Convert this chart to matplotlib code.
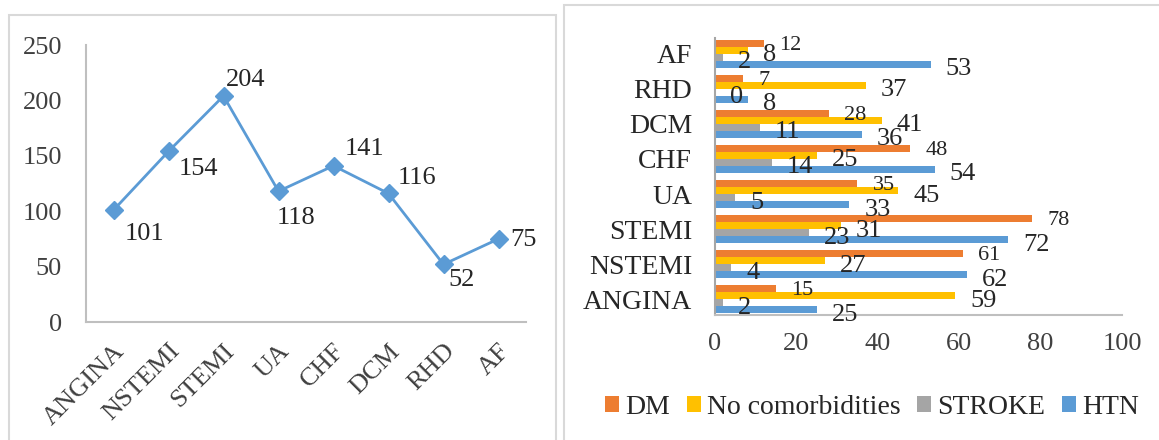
import matplotlib
matplotlib.use("Agg")
import matplotlib.pyplot as plt
from matplotlib.patches import Rectangle, Patch
from matplotlib.transforms import ScaledTranslation
import numpy as np

# ---- data ----
diagnoses = ["ANGINA", "NSTEMI", "STEMI", "UA", "CHF", "DCM", "RHD", "AF"]
patients = [101, 154, 204, 118, 141, 116, 52, 75]

series_names = ["DM", "No comorbidities", "STROKE", "HTN"]
dm = [15, 61, 78, 35, 48, 28, 7, 12]
no_comorbidities = [59, 27, 31, 45, 25, 41, 37, 8]
stroke = [2, 4, 23, 5, 14, 11, 0, 2]
htn = [25, 62, 72, 33, 54, 36, 8, 53]

line_ticks = [0, 50, 100, 150, 200, 250]
bar_ticks = [0, 20, 40, 60, 80, 100]

# ---- style ----
plt.rcParams["font.family"] = ["Liberation Serif", "DejaVu Serif"]
TEXT = "#262626"
TICK = "#404040"
BLUE = "#5B9BD5"
colors = ["#ED7D31", "#FFC000", "#A5A5A5", "#5B9BD5"]

W, H = 1159, 440
fig = plt.figure(figsize=(W / 100, H / 100), dpi=100)
fig.patch.set_facecolor("white")


def fbox(x0, y0, x1, y1):
    """pixel box (top-left origin) -> figure fraction rect"""
    return [x0 / W, 1 - y1 / H, (x1 - x0) / W, (y1 - y0) / H]


def px(v):
    return v * 72 / 100


# panel frames
for (x0, y0, x1, y1) in [(9, 15, 556, 460), (564, 5, 1180, 460)]:
    fig.patches.append(Rectangle((x0 / W, 1 - y1 / H), (x1 - x0) / W, (y1 - y0) / H,
                                 transform=fig.transFigure, fill=False,
                                 edgecolor="#D9D9D9", linewidth=1.5))

# ---- left: line chart ----
ax1 = fig.add_axes(fbox(86, 45, 526, 322))
x = np.arange(len(diagnoses))
ax1.plot(x, patients, color=BLUE, linewidth=2.0, marker="D", markersize=9.5,
         markerfacecolor=BLUE, markeredgecolor=BLUE, zorder=3)
ax1.set_xlim(-0.5, len(diagnoses) - 0.5)
ax1.set_ylim(0, 250)
ax1.set_yticks(line_ticks)
ax1.set_yticklabels([str(t) for t in line_ticks], fontsize=19, color=TICK)
ax1.set_xticks(x)
ax1.set_xticklabels(diagnoses, fontsize=19, color=TICK, rotation=45,
                    ha="right", rotation_mode="anchor")
for lbl in ax1.get_xticklabels():
    lbl.set_transform(lbl.get_transform() + ScaledTranslation(8 / 100, -2 / 100, fig.dpi_scale_trans))
ax1.tick_params(axis="both", length=0)
ax1.tick_params(axis="y", pad=px(24))
ax1.tick_params(axis="x", pad=px(18))
for s in ["top", "right"]:
    ax1.spines[s].set_visible(False)
for s in ["left", "bottom"]:
    ax1.spines[s].set_color("#BFBFBF")
    ax1.spines[s].set_linewidth(1.5)

line_label_offsets = [(31, -24), (30, -18), (22, 16), (18, -27),
                      (31, 17), (28, 15), (18, -16), (25, -1)]
for xi, v, (dx, dy) in zip(x, patients, line_label_offsets):
    ax1.annotate(str(v), (xi, v), xytext=(px(dx), px(dy)), textcoords="offset points",
                 ha="center", va="center", fontsize=19, color=TEXT)

# ---- right: grouped horizontal bars ----
ax2 = fig.add_axes(fbox(715, 38, 1122, 315))
y = np.arange(len(diagnoses))
bar_h = 0.2
all_series = [dm, no_comorbidities, stroke, htn]
shifts = [1.5, 0.5, -0.5, -1.5]
for name, vals, col, sh in zip(series_names, all_series, colors, shifts):
    ax2.barh(y + sh * bar_h, vals, height=bar_h, color=col, label=name, zorder=2)
    small = name == "DM"
    for yi, v in zip(y, vals):
        ax2.annotate(str(v), (v, yi + sh * bar_h), xytext=(px(15), px(-2 if small else -5)),
                     textcoords="offset points", ha="left", va="center",
                     fontsize=16 if small else 19, color=TEXT, zorder=4)

ax2.set_xlim(0, 100)
ax2.set_ylim(-0.457, len(diagnoses) - 1 + 0.457)
ax2.set_xticks(bar_ticks)
ax2.set_xticklabels([str(t) for t in bar_ticks], fontsize=19, color=TICK)
ax2.set_yticks(y)
ax2.set_yticklabels(diagnoses, fontsize=20, color=TEXT)
ax2.tick_params(axis="both", length=0)
ax2.tick_params(axis="x", pad=px(18))
ax2.tick_params(axis="y", pad=px(23))
for s in ["top", "right"]:
    ax2.spines[s].set_visible(False)
ax2.spines["left"].set_color("#A6A6A6")
ax2.spines["bottom"].set_color("#BFBFBF")
for s in ["left", "bottom"]:
    ax2.spines[s].set_linewidth(1.5)

handles = [Patch(facecolor=c, edgecolor="none") for c in colors]
fig.legend(handles, series_names, loc="center", bbox_to_anchor=(872 / W, 1 - 407 / H),
           ncol=4, frameon=False, fontsize=20, handlelength=0.5, handleheight=0.5,
           handletextpad=0.22, columnspacing=0.6, borderpad=0, labelcolor=TEXT)

fig.savefig("out.png", dpi=100, facecolor="white")
